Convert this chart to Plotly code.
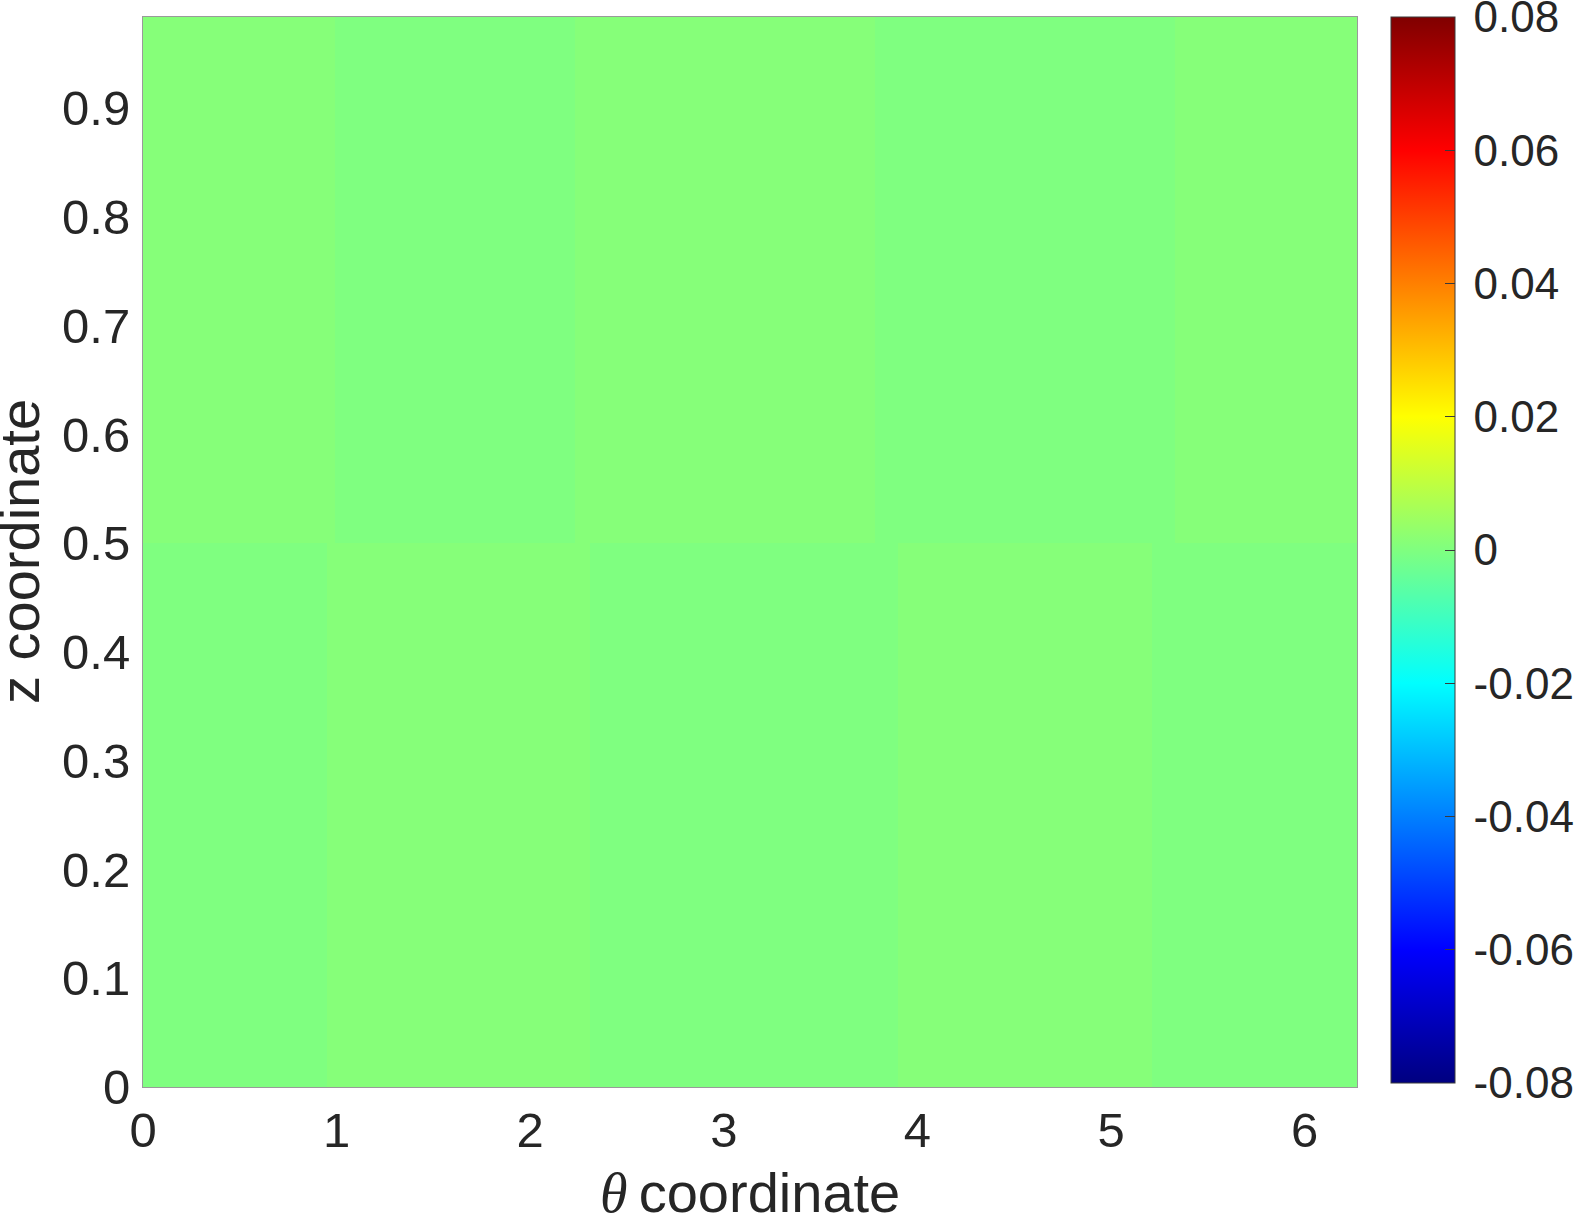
import plotly.graph_objects as go

# ── Field ─────────────────────────────────────────────────────────────────────
# cell edges along theta and z (heatmap "brick" mode: n+1 edges for n cells)
THETA_EDGES = [0.0, 0.95, 0.99, 2.23, 2.31, 3.78, 3.90, 5.21, 5.33, 6.27]
Z_EDGES = [0.0, 0.50, 0.984]

# values per cell: lower row first, upper row second
FIELD_LOWER = [0.0, 0.001, 0.001, 0.001, 0.0, 0.0, 0.001, 0.0, 0.0]
FIELD_UPPER = [0.001, 0.001, 0.0, 0.001, 0.001, 0.0, 0.0, 0.0, 0.001]

CBAR_TICKS = [0.08, 0.06, 0.04, 0.02, 0, -0.02, -0.04, -0.06, -0.08]
CBAR_LABELS = ["0.08", "0.06", "0.04", "0.02", "0", "-0.02", "-0.04", "-0.06", "-0.08"]
X_TICKS = [0, 1, 2, 3, 4, 5, 6]
Y_TICKS = [0, 0.1, 0.2, 0.3, 0.4, 0.5, 0.6, 0.7, 0.8, 0.9]

X_TITLE = ("<span style=\"font-family:'Liberation Serif', 'Times New Roman', serif\">"
           "<i>θ</i></span>\u2009coordinate")
Y_TITLE = "z coordinate"

# MATLAB-style jet
JET = [
    [0.0, "#000080"],
    [0.125, "#0000ff"],
    [0.375, "#00ffff"],
    [0.625, "#ffff00"],
    [0.875, "#ff0000"],
    [1.0, "#800000"],
]

TEXT = "#262626"
FONT = "Liberation Sans, Arial, sans-serif"
W, H = 1577, 1222
CLIM = 0.08 * 1.000001  # tiny headroom so the end ticks are kept

fig = go.Figure(go.Heatmap(
    x=THETA_EDGES,
    y=Z_EDGES,
    z=[FIELD_LOWER, FIELD_UPPER],
    colorscale=JET,
    zmin=-CLIM,
    zmax=CLIM,
    zsmooth=False,
    hoverinfo="skip",
    colorbar=dict(
        xref="container", x=1391 / W, xanchor="left",
        yref="paper", y=1.0, yanchor="top",
        lenmode="pixels", len=1066,
        xpad=0, ypad=0,
        thickness=64,
        outlinecolor="#3a3a3a", outlinewidth=1,
        ticks="inside", ticklen=10, tickcolor="#3a3a3a",
        tickvals=CBAR_TICKS,
        ticktext=["\u2009" + t for t in CBAR_LABELS],
        ticklabeloverflow="allow",
        tickfont=dict(size=44, color=TEXT, family=FONT),
    ),
))

fig.update_layout(
    width=W, height=H,
    paper_bgcolor="white",
    plot_bgcolor="white",
    font=dict(family=FONT, color=TEXT, size=49),
    margin=dict(l=143, r=W - 1357, t=17, b=H - 1087, autoexpand=False),
)

fig.update_xaxes(
    range=[0, 6.27],
    tickvals=X_TICKS,
    ticks="", showgrid=False, zeroline=False,
    showline=True, linecolor="#9a9a9a", linewidth=1, mirror=True,
    tickfont=dict(size=49, color=TEXT),
    ticklabelstandoff=0,
)
fig.update_yaxes(
    range=[0, 0.984],
    tickvals=Y_TICKS,
    ticks="", showgrid=False, zeroline=False,
    showline=True, linecolor="#9a9a9a", linewidth=1, mirror=True,
    tickfont=dict(size=49, color=TEXT),
    ticklabelstandoff=2,
)

# axis titles as annotations: fixed margins would otherwise pin them
fig.add_annotation(
    text=X_TITLE, xref="paper", yref="paper", x=0.5, y=0,
    xanchor="center", yanchor="middle", yshift=-105,
    showarrow=False, font=dict(size=56, color=TEXT),
)
fig.add_annotation(
    text=Y_TITLE, xref="paper", yref="paper", x=0, y=0.5,
    xanchor="center", yanchor="middle", xshift=-124, textangle=-90,
    showarrow=False, font=dict(size=56, color=TEXT),
)

# drop the page's default body margin so the figure sits at the window corner
fig.write_html(
    "out.html",
    config={"displayModeBar": False},
    post_script="document.body.style.margin = '0';",
)
